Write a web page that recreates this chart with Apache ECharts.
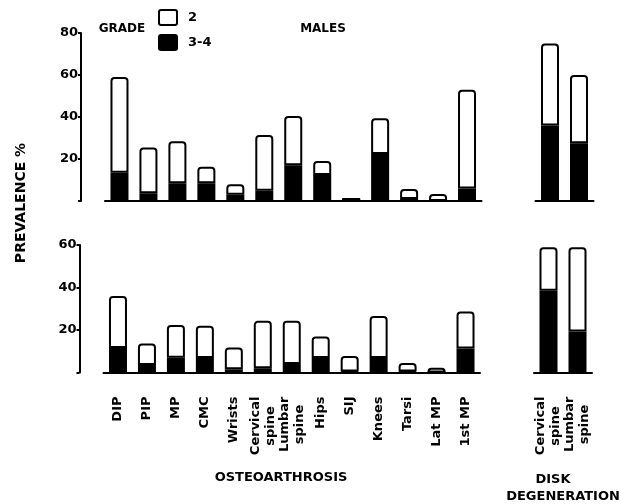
<!DOCTYPE html>
<html><head><meta charset="utf-8">
<script src="https://cdn.jsdelivr.net/npm/echarts@6/dist/echarts.min.js"></script>
<style>html,body{margin:0;padding:0;background:#fff}#c{width:621px;height:504px}</style>
</head><body><div id="c"></div>
<script>
// Categories
const oaCategories = ['DIP','PIP','MP','CMC','Wrists','Cervical\nspine','Lumbar\nspine','Hips','SIJ','Knees','Tarsi','Lat MP','1st MP'];
const diskCategories = ['Cervical\nspine','Lumbar\nspine'];
// Top panel (MALES): grade 3-4 and grade 2 prevalence (%)
const topOaGrade34 = [13.5, 3.7, 8.4, 8.4, 3, 4.9, 17, 12.4, 1, 22.4, 1, 0, 6];
const topOaGrade2  = [45.5, 21.8, 20, 7.9, 5, 26.5, 23.5, 6.6, 0, 17, 4.7, 3.3, 47];
const topDiskGrade34 = [36, 27.5];
const topDiskGrade2  = [39, 32.5];
// Bottom panel: grade 3-4 and grade 2 prevalence (%)
const botOaGrade34 = [11.5, 3.5, 7, 6.8, 1.5, 2, 4, 6.8, 0.5, 6.8, 0.5, 0, 11.3];
const botOaGrade2  = [24.5, 10.2, 15.3, 15.2, 10.3, 22.3, 20.3, 10.2, 7.3, 19.8, 4, 2.2, 17.4];
const botDiskGrade34 = [38.5, 19.3];
const botDiskGrade2  = [20.5, 39.7];
// Axis ticks
const topYMax = 80, botYMax = 60, yInterval = 20;

const FONT = 'DejaVu Sans';
const LABEL_FONT = 'bold 13px "' + FONT + '"';
const chart = echarts.init(document.getElementById('c'), null, {renderer:'canvas'});

// rich styles so that the second line of two-line labels is centred under the first
const measureCtx = document.createElement('canvas').getContext('2d');
measureCtx.font = LABEL_FONT;
const rich = {};
const keyOf = {};
oaCategories.concat(diskCategories).forEach(function(c){
  if (c.indexOf('\n') >= 0 && !keyOf[c]) {
    const k = 'k' + Object.keys(keyOf).length;
    keyOf[c] = k;
    const first = c.split('\n')[0];
    rich[k + 'a'] = {fontFamily:FONT, fontWeight:'bold', fontSize:13, color:'#000', lineHeight:15};
    rich[k + 'b'] = {fontFamily:FONT, fontWeight:'bold', fontSize:13, color:'#000', lineHeight:15,
                     width:Math.ceil(measureCtx.measureText(first).width), align:'center'};
  }
});
function fmt(v){
  if (keyOf[v]) { const p = v.split('\n'); const k = keyOf[v]; return '{' + k + 'a|' + p[0] + '}\n{' + k + 'b|' + p[1] + '}'; }
  return v;
}

const grids = [
  {left:105, top:33, width:376.5, height:168},
  {left:535.5, top:33, width:58, height:168},
  {left:103.5, top:245, width:376.5, height:127.5},
  {left:534, top:245, width:58, height:127.5}
];
function xAx(gi, data, showLabel){
  return {type:'category', gridIndex:gi, data:data,
    axisLine:{show:true, lineStyle:{color:'#000', width:2}},
    axisTick:{show:false},
    axisLabel:{show:showLabel, interval:0, hideOverlap:false, rotate:90, margin:24, color:'#000', fontFamily:FONT, fontWeight:'bold', fontSize:13, lineHeight:15, formatter:fmt, rich:rich}
  };
}
function yAx(gi, max, show){
  return {type:'value', gridIndex:gi, min:0, max:max, interval:yInterval, show:show, offset:24,
    splitLine:{show:false},
    axisLine:{show:true, lineStyle:{color:'#000', width:2}},
    axisTick:{show:true, length:3, lineStyle:{color:'#000', width:2}},
    axisLabel:{color:'#000', fontFamily:FONT, fontWeight:'bold', fontSize:13, margin:3, formatter:v => v===0 ? '' : String(v)}
  };
}
function bars(gi, g34, g2){
  const base = {type:'bar', xAxisIndex:gi, yAxisIndex:gi, stack:'s'+gi, barWidth:18, animation:false};
  return [
    Object.assign({}, base, {name:'3-4', data:g34, itemStyle:{color:'#000', borderColor:'#000', borderWidth:2}}),
    Object.assign({}, base, {name:'2', data:g2, itemStyle:{color:'#fff', borderColor:'#000', borderWidth:2, borderRadius:[3,3,0,0]}})
  ];
}
function txt(text, x, y, size, rot, weight){
  return {type:'text', x:x, y:y, rotation:rot||0, style:{text:text, fill:'#000', font:(weight||'bold')+' '+size+'px "'+FONT+'"', align:'center', verticalAlign:'middle'}};
}

chart.setOption({
  backgroundColor:'#fff',
  animation:false,
  grid:grids,
  xAxis:[xAx(0, oaCategories, false), xAx(1, diskCategories, false), xAx(2, oaCategories, true), xAx(3, diskCategories, true)],
  yAxis:[yAx(0, topYMax, true), yAx(1, topYMax, false), yAx(2, botYMax, true), yAx(3, botYMax, false)],
  legend:{orient:'vertical', left:158, top:9, itemWidth:18, itemHeight:15, itemGap:8, padding:0,
    data:[{name:'2', icon:'path://M2,0 L16,0 Q18,0 18,2 L18,13 Q18,15 16,15 L2,15 Q0,15 0,13 L0,2 Q0,0 2,0 Z', itemStyle:{color:'#fff', borderColor:'#000', borderWidth:2}},
          {name:'3-4', icon:'path://M2,0 L16,0 Q18,0 18,2 L18,13 Q18,15 16,15 L2,15 Q0,15 0,13 L0,2 Q0,0 2,0 Z', itemStyle:{color:'#000', borderColor:'#000', borderWidth:2}}],
    textStyle:{color:'#000', fontFamily:FONT, fontSize:13, fontWeight:'bold', padding:[0,0,0,6]}, selectedMode:false},
  series:[].concat(
    bars(0, topOaGrade34, topOaGrade2),
    bars(1, topDiskGrade34, topDiskGrade2),
    bars(2, botOaGrade34, botOaGrade2),
    bars(3, botDiskGrade34, botDiskGrade2)
  ),
  graphic:[
    txt('GRADE', 122, 29, 12),
    txt('MALES', 323, 29, 12),
    txt('PREVALENCE %', 21, 203, 14, Math.PI/2),
    txt('OSTEOARTHROSIS', 281, 478, 13),
    txt('DISK', 553, 480, 13),
    txt('DEGENERATION', 563, 497, 13)
  ]
});
</script></body></html>
